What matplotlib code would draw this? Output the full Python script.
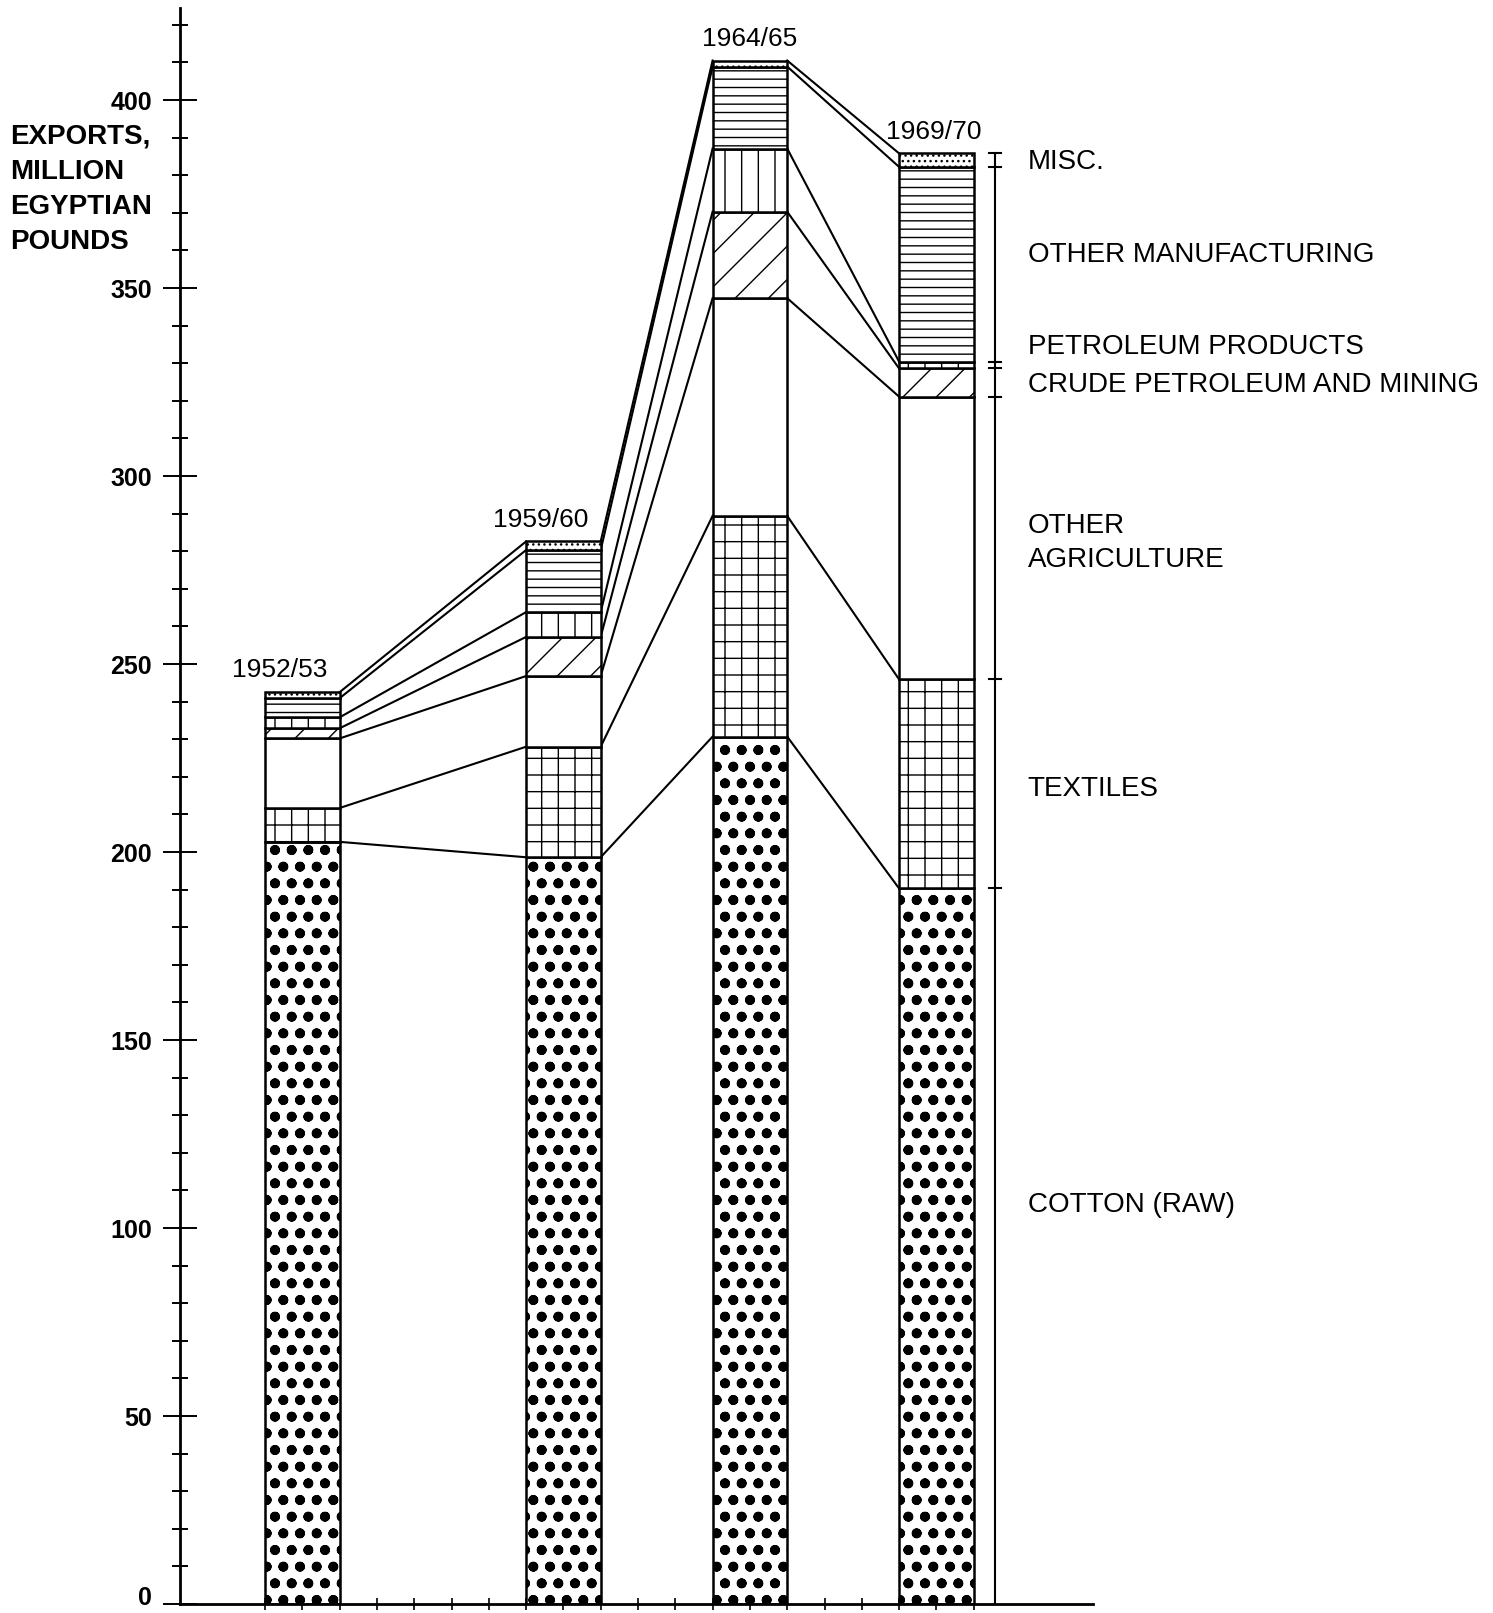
import numpy as np
import matplotlib.pyplot as plt
import matplotlib.transforms as mtransforms

# exports by category, million Egyptian pounds
years = ['1952/53', '1959/60', '1964/65', '1969/70']
cotton = [202.7, 198.6, 230.7, 190.3]
textiles = [9.0, 29.4, 58.7, 55.6]
other_agri = [18.5, 18.8, 57.9, 75.2]
crude = [2.7, 10.4, 23.0, 7.5]
petroleum = [2.9, 6.6, 16.8, 1.8]
other_manuf = [5.1, 16.5, 21.8, 51.8]
misc = [1.6, 2.3, 1.6, 3.6]

cat_labels = ['COTTON (RAW)', 'TEXTILES', 'OTHER\nAGRICULTURE',
              'CRUDE PETROLEUM AND MINING', 'PETROLEUM PRODUCTS',
              'OTHER MANUFACTURING', 'MISC.']

# layout stuff
bar_left = [0, 7, 12, 17]
bar_w = 2
hatches = ['o.', '+', '', '/', '|', '--', '...']
label_y = [106, 216.8, 282.3, 324.2, 334.4, 358.8, 383.6]
year_dx = [-16, -16, 0, -2]

plt.rcParams['font.family'] = ['Liberation Sans', 'DejaVu Sans']

W, H = 1493, 1613
px_unit = 37.3      # pixels per x unit
py_unit = 3.76      # pixels per million
x0_px, y0_px = 265, 1604

fig = plt.figure(figsize=(W / 100, H / 100), dpi=100)
ax = fig.add_axes([0, (H - y0_px) / H, 1, y0_px / H])
ax.set_xlim(-x0_px / px_unit, (W - x0_px) / px_unit)
ax.set_ylim(0, y0_px / py_unit)

series = [cotton, textiles, other_agri, crude, petroleum, other_manuf, misc]
bottom = np.zeros(len(years))
levels = []
for vals, h in zip(series, hatches):
    hlw = 2.4 if h == 'o.' else 1.0
    with plt.rc_context({'hatch.linewidth': hlw}):
        bars = ax.bar(bar_left, vals, width=bar_w, bottom=bottom, align='edge',
                      facecolor='white', edgecolor='black', hatch=h,
                      linewidth=1.8, zorder=2)
    for b in bars:
        if hasattr(b, 'set_hatch_linewidth'):
            b.set_hatch_linewidth(hlw)
    bottom = bottom + np.array(vals)
    levels.append(bottom.copy())

# connecting lines between bars
for lev in levels:
    for i in range(len(years) - 1):
        ax.plot([bar_left[i] + bar_w, bar_left[i + 1]], [lev[i], lev[i + 1]],
                color='black', lw=1.5, zorder=1)

# year labels
for i, yr in enumerate(years):
    ax.annotate(yr, (bar_left[i] + bar_w / 2, levels[-1][i]),
                xytext=(year_dx[i], 7), textcoords='offset points',
                ha='center', va='bottom', fontsize=19)

# bracket on the right of last bar
bx = 19.57
ax.plot([bx, bx], [0, levels[-1][-1]], color='black', lw=1.5)
for lev in levels:
    ax.plot([bx - 0.17, bx + 0.17], [lev[-1], lev[-1]], color='black', lw=1.5)

for lab, y in zip(cat_labels, label_y):
    ax.text(20.45, y, lab, fontsize=20, ha='left', va='center', linespacing=1.4)

# axes
ax.spines['top'].set_visible(False)
ax.spines['right'].set_visible(False)
ax.spines['left'].set_position(('data', (180 - x0_px) / px_unit))
ax.spines['left'].set_bounds(0, 424.5)
ax.spines['bottom'].set_bounds((180 - x0_px) / px_unit, 22.2)
ax.spines['left'].set_linewidth(2)
ax.spines['bottom'].set_linewidth(2)

ax.set_yticks(range(0, 401, 50))
ax.set_yticks([v for v in range(10, 421, 10) if v % 50], minor=True)
ax.tick_params(axis='y', which='major', direction='inout', length=24,
               width=1.4, pad=8, labelsize=18)
ax.tick_params(axis='y', which='minor', direction='inout', length=11, width=1.4)
for t in ax.get_yticklabels():
    t.set_fontweight('bold')

# nudge the "0" up so it is not cut at the bottom edge
zero_lbl = ax.yaxis.get_major_ticks()[0].label1
zero_lbl.set_transform(zero_lbl.get_transform() +
                       mtransforms.ScaledTranslation(0, 6 / 72, fig.dpi_scale_trans))

ax.set_xticks(range(0, 20))
ax.set_xticklabels([])
ax.tick_params(axis='x', direction='inout', length=8, width=1.2)

fig.text(10 / W, 1 - 124 / H, 'EXPORTS,\nMILLION\nEGYPTIAN\nPOUNDS',
         ha='left', va='top', fontsize=20, fontweight='bold', linespacing=1.45)

fig.savefig('out.png', dpi=100)
